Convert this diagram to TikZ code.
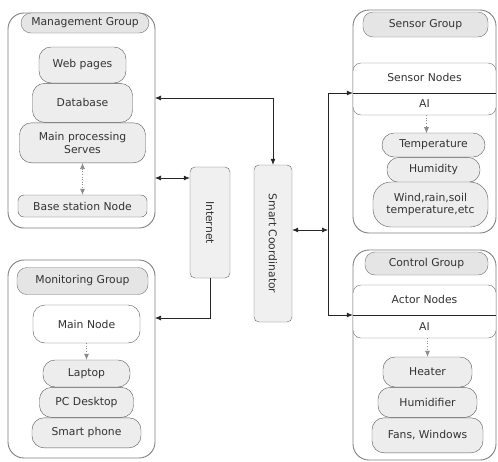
\documentclass[tikz,border=0pt]{standalone}
\usepackage{fontspec}
\usepackage{graphicx}
\setmainfont{DejaVu Sans}
\usetikzlibrary{positioning, arrows.meta}

\begin{document}
\begin{tikzpicture}[
        x=1pt, y=-1pt,
        font=\fontsize{10.8}{12.5}\selectfont,
        >={Latex[length=6pt,width=5pt]},
        grp/.style={draw=black!50, line width=0.9pt, rounded corners=16pt, fill=white}, % outer groups
        ttl/.style={draw=black!55, fill=black!10, rounded corners=10pt, inner sep=1pt, text=black!80},
        pill/.style={draw=black!65, fill=black!7, rounded corners=12pt, align=center, inner sep=1pt, text=black!80},
        nbox/.style={draw=black!55, fill=white, rounded corners=8pt},
        txt/.style={inner sep=1pt, text=black!80},
        vbox/.style={draw=black!60, fill=black!6, rounded corners=5pt, inner sep=1pt, text=black!80}, % tall boxes
        link/.style={draw=black!85, line width=0.7pt},
        dots/.style={draw=black!45, dotted, line width=0.6pt},
    ]
    \useasboundingbox (0,0) rectangle (498,461);

    % Management group
    \node[grp, minimum width=147, minimum height=215] (mgmt) at (81.5,120.5) {};
    \node[ttl, minimum width=128, minimum height=20] (mgmtT) at (85,23) {Management Group};
    \node[pill, minimum width=87, minimum height=36] (web) at (82.5,65) {Web pages};
    \node[pill, minimum width=100, minimum height=39, below=0pt of web] (db) {Database};
    \node[pill, minimum width=126, minimum height=40, below=0pt of db] (mps) {Main processing\\Serves};
    \node[pill, rounded corners=6pt, minimum width=129, minimum height=22] (bsn) at (82.5,206) {Base station Node};
    \draw[dots, <->] (mps) -- (bsn);

    % Monitoring group
    \node[grp, minimum width=147, minimum height=198] (mon) at (81.5,359) {};
    \node[ttl, minimum width=131, minimum height=27] (monT) at (82.5,281) {Monitoring Group};
    \node[pill, fill=white, minimum width=107, minimum height=38] (main) at (86.5,324) {Main Node};
    \node[pill, minimum width=87, minimum height=27] (lap) at (86.5,373.5) {Laptop};
    \node[pill, minimum width=94, minimum height=30, below=0pt of lap] (pc) {PC Desktop};
    \node[pill, minimum width=109, minimum height=30, below=0pt of pc] (phone) {Smart phone};
    \draw[dots, ->] (main) -- (lap);

    % Internet and coordinator
    \node[vbox, minimum width=40, minimum height=111] (inet) at (210,222.5) {\rotatebox{-90}{Internet}};
    \node[vbox, minimum width=38, minimum height=157] (sc) at (273,243.5) {\rotatebox{-90}{Smart Coordinator}};

    % Sensor group
    \node[grp, minimum width=143, minimum height=223] (sens) at (424.5,121.5) {};
    \node[ttl, minimum width=125, minimum height=25] (sensT) at (425.5,24.5) {Sensor Group};
    \node[nbox, minimum width=143, minimum height=52] (sbox) at (424.5,89) {};
    \node[txt] (snodes) at (424.5,77) {Sensor Nodes};
    \node[txt] (sai) at (424.5,104) {AI};
    \node[pill, minimum width=103, minimum height=24] (temp) at (433.5,145) {Temperature};
    \node[pill, minimum width=93, minimum height=25, below=0pt of temp] (hum) {Humidity};
    \node[pill, rounded corners=18pt, minimum width=115, minimum height=45] (wind) at (430.5,204.5) {Wind,rain,soil\\temperature,etc};
    \draw[dots, ->] (sbox.south -| temp) ++(-7,0) -- ++(0,18);

    % Control group
    \node[grp, minimum width=143, minimum height=210] (ctrl) at (424.5,355) {};
    \node[ttl, minimum width=123, minimum height=23] (ctrlT) at (426.5,263.5) {Control Group};
    \node[nbox, minimum width=143, minimum height=53] (abox) at (424.5,311.5) {};
    \node[txt] (anodes) at (424.5,299) {Actor Nodes};
    \node[txt] (aai) at (424.5,326.5) {AI};
    \node[pill, minimum width=89, minimum height=30] (heat) at (427.5,372) {Heater};
    \node[pill, minimum width=99, minimum height=30, below=0pt of heat] (humi) {Humidifier};
    \node[pill, minimum width=111, minimum height=35, below=0pt of humi] (fans) {Fans, Windows};
    \draw[dots, ->] (abox.south -| heat) -- (heat);

    % connectors
    \coordinate (m1) at (155,98);
    \coordinate (m2) at (155,178);
    \coordinate (n1) at (155,318);
    \coordinate (r1) at (328,230);
    \coordinate (s1) at (328,93);
    \coordinate (a1) at (328,315);
    \draw[link, <->] (m1) -| (sc.north);
    \draw[link, <->] (m2) -- (inet.west |- m2);
    \draw[link, ->] (inet.south) |- (n1);
    \draw[link, <->] (sc.east |- r1) -- (r1);
    \draw[link, ->] (r1) -- (s1) -- (sbox.west |- s1);
    \draw[link, ->] (r1) -- (a1) -- (abox.west |- a1);
    \draw[link] (sbox.west |- s1) -- (sbox.east |- s1);
    \draw[link] (abox.west |- a1) -- (abox.east |- a1);
\end{tikzpicture}
\end{document}
